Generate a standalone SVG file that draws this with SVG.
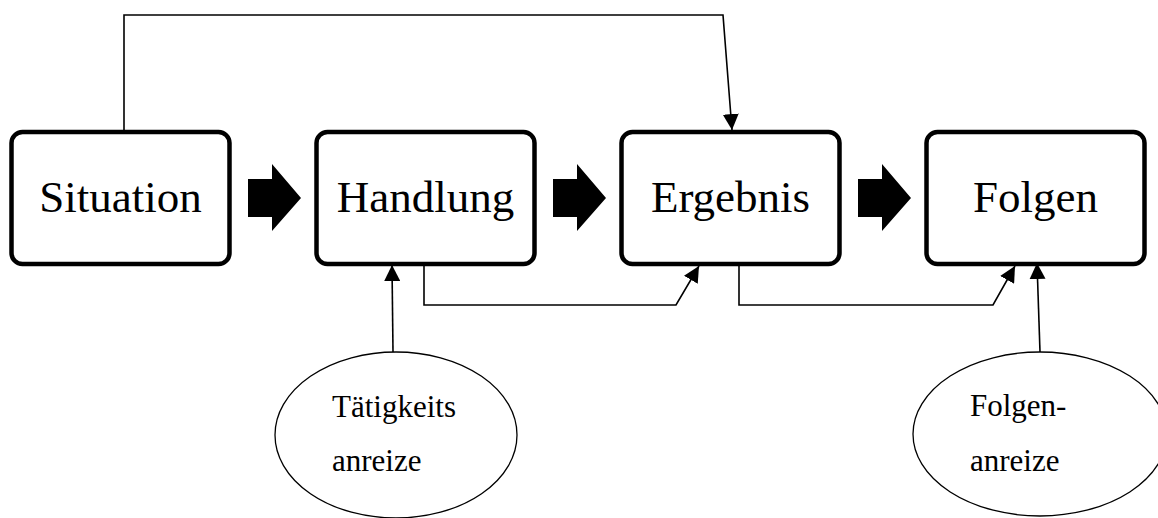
<svg xmlns="http://www.w3.org/2000/svg" width="1158" height="518" viewBox="0 0 1158 518">
<style>
.box{fill:#fff;stroke:#000;stroke-width:4.5}
.lbl{font-family:"Liberation Serif","Times New Roman",serif;font-size:45px;fill:#000;text-anchor:middle}
.ell{fill:#fff;stroke:#000;stroke-width:1.3}
.etxt{font-family:"Liberation Serif","Times New Roman",serif;font-size:31px;fill:#000}
.con{fill:none;stroke:#000;stroke-width:1.6}
.blk{fill:#000}
</style>
<defs>
<marker id="ah" markerUnits="userSpaceOnUse" markerWidth="16" markerHeight="16" viewBox="0 0 14 14" refX="14" refY="7" orient="auto">
<path d="M0,0 L14,7 L0,14 Z" fill="#000"/>
</marker>
<path id="blkArrow" d="M0,15 H24 V0 L53,34 L24,67 V53 H0 Z"/>
</defs>
<g id="connectors">
<path class="con" d="M124,131 V15 H723 L732,130" marker-end="url(#ah)"/>
<path class="con" d="M424,266 V305 H676 L699,266" marker-end="url(#ah)"/>
<path class="con" d="M739,266 V305 H993 L1015,266" marker-end="url(#ah)"/>
<path class="con" d="M393,352 L392,265" marker-end="url(#ah)"/>
<path class="con" d="M1040,352 L1037,263" marker-end="url(#ah)"/>
<use href="#blkArrow" class="blk" x="248" y="164"/>
<use href="#blkArrow" class="blk" x="553" y="164"/>
<use href="#blkArrow" class="blk" x="858" y="164"/>
</g>
<g id="situation">
<rect class="box" x="11.5" y="132" width="218" height="132" rx="11"/>
<text class="lbl" x="120.5" y="212">Situation</text>
</g>
<g id="handlung">
<rect class="box" x="316.5" y="132" width="218" height="132" rx="11"/>
<text class="lbl" x="425.5" y="212">Handlung</text>
</g>
<g id="ergebnis">
<rect class="box" x="621.5" y="132" width="218" height="132" rx="11"/>
<text class="lbl" x="730.5" y="212">Ergebnis</text>
</g>
<g id="folgen">
<rect class="box" x="926.5" y="132" width="218" height="132" rx="11"/>
<text class="lbl" x="1035.5" y="212">Folgen</text>
</g>
<g id="taetigkeitsanreize">
<ellipse class="ell" cx="396" cy="435" rx="121" ry="83"/>
<text class="etxt" x="332" y="417">Tätigkeits</text>
<text class="etxt" x="332" y="471">anreize</text>
</g>
<g id="folgenanreize">
<ellipse class="ell" cx="1040" cy="434" rx="127" ry="82"/>
<text class="etxt" x="970" y="416">Folgen-</text>
<text class="etxt" x="970" y="471">anreize</text>
</g>
</svg>
